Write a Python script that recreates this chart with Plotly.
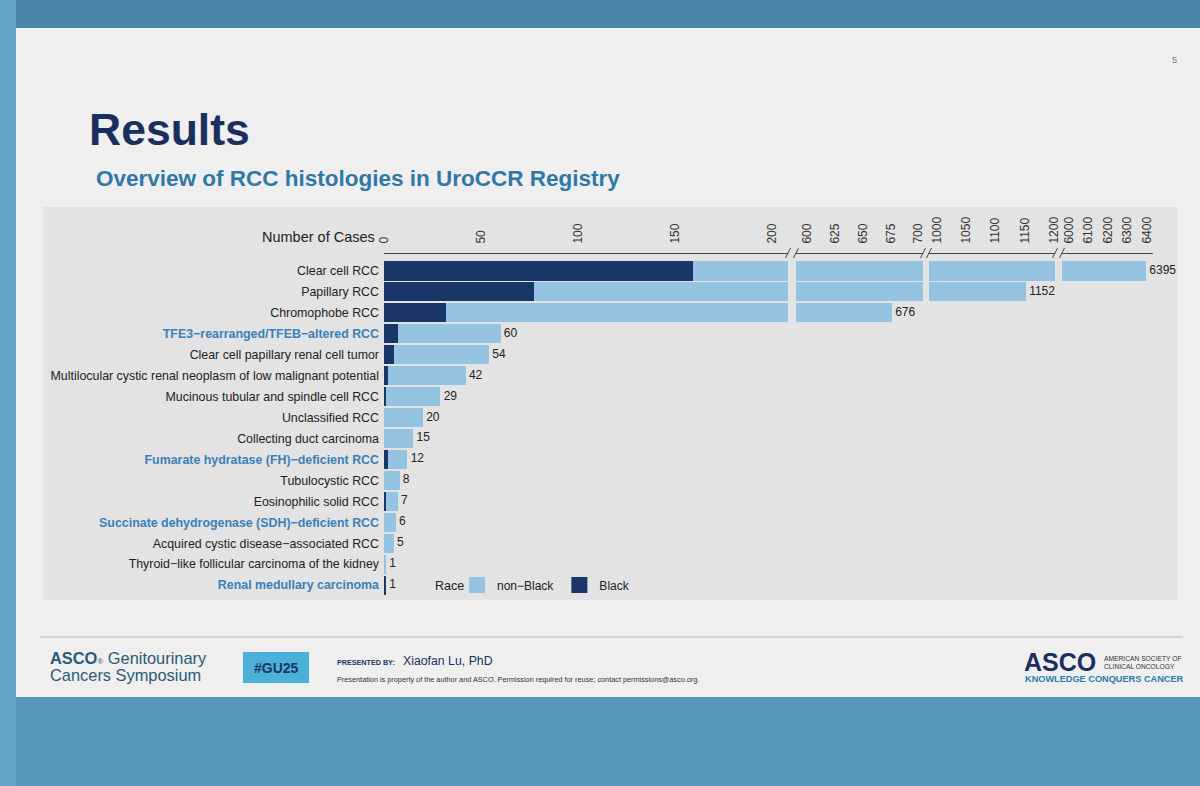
import plotly.graph_objects as go

# ---------------- data ----------------
categories = [
    "Clear cell RCC",
    "Papillary RCC",
    "Chromophobe RCC",
    "TFE3−rearranged/TFEB−altered RCC",
    "Clear cell papillary renal cell tumor",
    "Multilocular cystic renal neoplasm of low malignant potential",
    "Mucinous tubular and spindle cell RCC",
    "Unclassified RCC",
    "Collecting duct carcinoma",
    "Fumarate hydratase (FH)−deficient RCC",
    "Tubulocystic RCC",
    "Eosinophilic solid RCC",
    "Succinate dehydrogenase (SDH)−deficient RCC",
    "Acquired cystic disease−associated RCC",
    "Thyroid−like follicular carcinoma of the kidney",
    "Renal medullary carcinoma",
]
highlighted = [
    "TFE3−rearranged/TFEB−altered RCC",
    "Fumarate hydratase (FH)−deficient RCC",
    "Succinate dehydrogenase (SDH)−deficient RCC",
    "Renal medullary carcinoma",
]
total_cases = [6395, 1152, 676, 60, 54, 42, 29, 20, 15, 12, 8, 7, 6, 5, 1, 1]
black_cases = [159, 77, 32, 7, 5, 2, 1, 0, 0, 2, 0, 1, 0, 0, 0, 1]
non_black_cases = [6236, 1075, 644, 53, 49, 40, 28, 20, 15, 10, 8, 6, 6, 5, 1, 0]

segment_ranges = [[0, 208], [590, 704], [986, 1202], [5964, 6431]]
segment_ticks = [
    [0, 50, 100, 150, 200],
    [600, 625, 650, 675, 700],
    [1000, 1050, 1100, 1150, 1200],
    [6000, 6100, 6200, 6300, 6400],
]

# ---------------- style ----------------
W, H = 1200, 786
FONT = "Liberation Sans, Arial, sans-serif"
LIGHT = "#94c4e2"
DARK = "#1a3668"
HL = "#3b80b8"
seg_px = [(384, 788), (796, 923), (929, 1055), (1062, 1153)]
axis_line_y = 253


def px(x):
    return x / W


def py(y):
    return 1 - y / H


fig = go.Figure()

axis_names = ["x", "x2", "x3", "x4"]
for i, ax in enumerate(axis_names):
    fig.add_trace(go.Bar(
        y=categories, x=black_cases, orientation="h", name="Black",
        marker=dict(color=DARK, line=dict(width=0)),
        xaxis=ax, yaxis="y", showlegend=False, hoverinfo="skip",
    ))
    fig.add_trace(go.Bar(
        y=categories, x=non_black_cases, orientation="h", name="non−Black",
        marker=dict(color=LIGHT, line=dict(width=0)),
        xaxis=ax, yaxis="y", showlegend=False, hoverinfo="skip",
    ))
    lo, hi = segment_ranges[i]
    tx = [t for t in total_cases if lo <= t <= hi]
    ty = [c for c, t in zip(categories, total_cases) if lo <= t <= hi]
    fig.add_trace(go.Scatter(
        x=tx, y=ty, mode="text", text=["\u00a0" + str(t) for t in tx],
        textposition="middle right", textfont=dict(size=12, color="#222", family=FONT),
        xaxis=ax, yaxis="y", showlegend=False, cliponaxis=False, hoverinfo="skip",
    ))

# legend entries (square keys like the reference); their single point lies outside the axis range
for name, col in [("non−Black", LIGHT), ("Black", DARK)]:
    fig.add_trace(go.Scatter(
        x=[-1000], y=[categories[0]], mode="markers", name=name,
        marker=dict(symbol="square", size=16, color=col),
        xaxis="x", yaxis="y", showlegend=True, hoverinfo="skip", cliponaxis=True,
    ))

ticktext = [
    f"<b><span style='color:{HL}'>{c}</span></b>" if c in highlighted else c
    for c in categories
]

layout = dict(
    width=W, height=H,
    margin=dict(l=0, r=0, t=0, b=0, autoexpand=False),
    paper_bgcolor="#5797b9",
    plot_bgcolor="rgba(0,0,0,0)",
    font=dict(family=FONT, color="#222"),
    barmode="stack",
    bargap=0.09,
    showlegend=True,
    legend=dict(
        orientation="h", x=px(457), xanchor="left", y=py(585), yanchor="middle",
        font=dict(size=12, color="#222", family=FONT), traceorder="normal",
        bgcolor="rgba(0,0,0,0)", itemclick=False, itemdoubleclick=False,
        tracegroupgap=0, itemwidth=30,
    ),
    yaxis=dict(
        domain=[py(595.5), py(260.5)], range=[15.5, -0.5], anchor="x",
        tickmode="array", tickvals=categories, ticktext=ticktext,
        tickfont=dict(size=12.4, color="#222", family=FONT),
        showgrid=False, zeroline=False, showline=False, ticks="",
        ticklabelstandoff=4, fixedrange=True, automargin=False,
    ),
)
for i, ax in enumerate(axis_names):
    key = "xaxis" if i == 0 else f"xaxis{i + 1}"
    layout[key] = dict(
        domain=[px(seg_px[i][0]), px(seg_px[i][1])],
        range=segment_ranges[i], anchor="free", position=py(axis_line_y),
        side="top", tickmode="array", tickvals=segment_ticks[i],
        tickangle=-90, tickfont=dict(size=12, color="#333", family=FONT),
        showgrid=False, zeroline=False, showline=True, linecolor="#444",
        linewidth=1, ticks="", ticklabelstandoff=7, fixedrange=True, automargin=False,
    )
fig.update_layout(**layout)

shapes = [
    # background shading of the photo
    dict(type="rect", xref="paper", yref="paper", x0=0, x1=1, y0=py(28), y1=1,
         fillcolor="#4a84a7", line=dict(width=0), layer="below"),
    dict(type="rect", xref="paper", yref="paper", x0=0, x1=px(16), y0=0, y1=1,
         fillcolor="#63a6c6", line=dict(width=0), layer="below"),
    # slide
    dict(type="rect", xref="paper", yref="paper", x0=px(16), x1=px(1200), y0=py(697), y1=py(28),
         fillcolor="#efefef", line=dict(width=0), layer="below"),
    # chart panel
    dict(type="rect", xref="paper", yref="paper", x0=px(43), x1=px(1178), y0=py(600), y1=py(207),
         fillcolor="#e2e3e2", line=dict(width=0), layer="below"),
    # footer divider
    dict(type="line", xref="paper", yref="paper", x0=px(40), x1=px(1183), y0=py(637), y1=py(637),
         line=dict(color="#d4d4d4", width=2)),
    # #GU25 box
    dict(type="rect", xref="paper", yref="paper", x0=px(243), x1=px(309), y0=py(683), y1=py(652),
         fillcolor="#4bb1d9", line=dict(width=0)),
]
# break marks at segment edges
for i, ax in enumerate(axis_names):
    dref = f"{ax} domain"
    ends = []
    if i > 0:
        ends.append(0)
    if i < len(axis_names) - 1:
        ends.append(1)
    for e in ends:
        shapes.append(dict(
            type="line", xref=dref, yref="paper", xsizemode="pixel", ysizemode="pixel",
            xanchor=e, yanchor=py(axis_line_y), x0=-2.5, x1=2.5, y0=-5, y1=5,
            line=dict(color="#444", width=1),
        ))
fig.update_layout(shapes=shapes)

ann = []


def text(x, y, s, size, color="#222", xanchor="left", yanchor="middle", bold=False):
    ann.append(dict(
        xref="paper", yref="paper", x=px(x), y=py(y), text=(f"<b>{s}</b>" if bold else s),
        showarrow=False, xanchor=xanchor, yanchor=yanchor,
        font=dict(size=size, color=color, family=FONT),
    ))


text(87, 130, "Results", 44.5, "#1b2f5e", bold=True)
text(94, 179, "Overview of RCC histologies in UroCCR Registry", 22.5, "#2f78a8", bold=True)
text(1174, 60, "5", 9, "#777", xanchor="center")
text(377, 237, "Number of Cases", 14.5, "#222", xanchor="right")
text(466, 586, "Race", 12.5, "#222", xanchor="right")

# footer
ann.append(dict(xref="paper", yref="paper", x=px(48), y=py(658),
                text="<b>ASCO</b><span style='font-size:8px'>®</span> Genitourinary", showarrow=False,
                xanchor="left", yanchor="middle", font=dict(size=16.4, color="#2a5a78", family=FONT)))
text(48, 675, "Cancers Symposium", 16.4, "#2a5a78")
text(276, 667.5, "#GU25", 14, "#1b3566", xanchor="center", bold=True)
text(335, 662, "PRESENTED BY:", 7.2, "#1b3566", bold=True)
text(401, 661, "Xiaofan Lu, PhD", 12.3, "#1b2f5e")
text(335, 679, "Presentation is property of the author and ASCO. Permission required for reuse; contact permissions@asco.org.",
     7.3, "#333")
text(1022, 662, "ASCO", 25, "#1b2f5e", bold=True)
text(1102, 658, "AMERICAN SOCIETY OF", 6.7, "#333")
text(1102, 666, "CLINICAL ONCOLOGY", 6.7, "#333")
text(1023, 679, "KNOWLEDGE CONQUERS CANCER", 9.2, "#2b7ca8", bold=True)

fig.update_layout(annotations=ann)
fig.write_html(
    "out.html",
    config={"displayModeBar": False},
    post_script="document.body.style.margin='0';document.body.style.overflow='hidden';",
)
